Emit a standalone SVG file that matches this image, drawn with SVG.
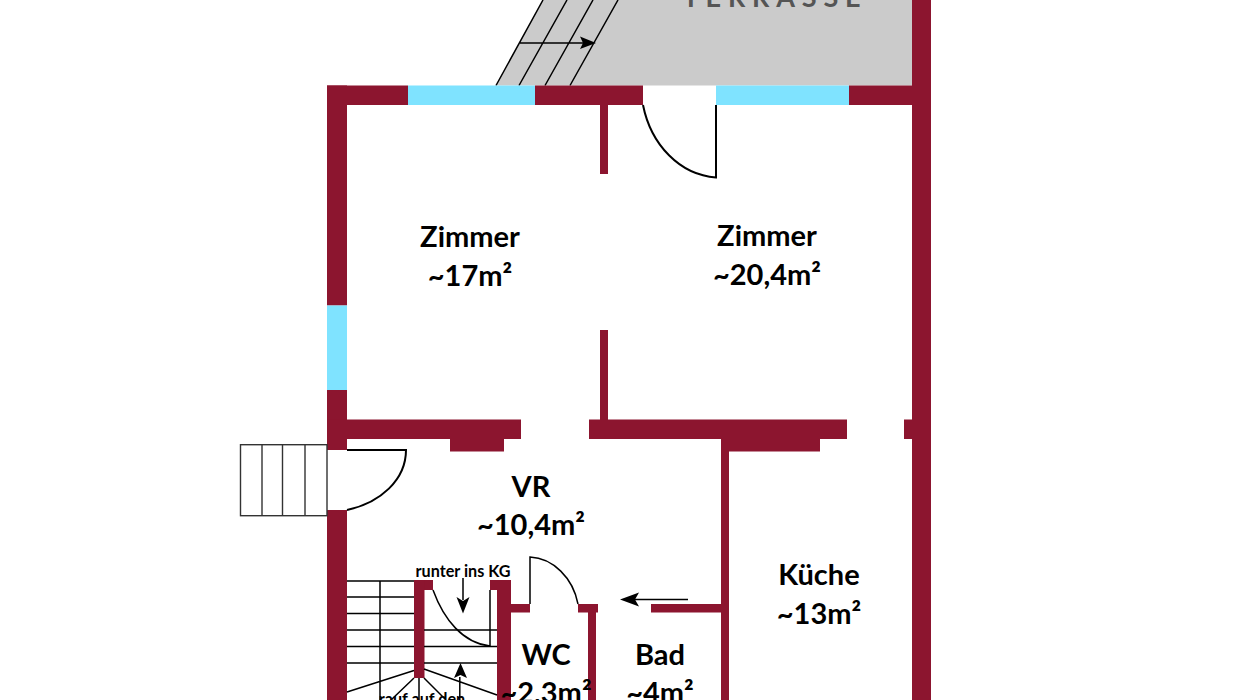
<svg xmlns="http://www.w3.org/2000/svg" width="1236" height="700" viewBox="0 0 1236 700">
<style>
.w{fill:#8c152f}
.g{fill:#7fe3ff}
.l{fill:none;stroke:#000;stroke-width:1.5}
.d{fill:none;stroke:#000;stroke-width:2}
.s{fill:none;stroke:#333;stroke-width:1.4}
.a{fill:#000}
text{font-family:"Lato","Open Sans","Liberation Sans",sans-serif;font-weight:700;fill:#000;text-anchor:middle}
.r{font-size:29px}
.m{font-size:16.200px}
</style>
<rect width="1236" height="700" fill="#fff"/>
<g id="terrace">
<polygon points="543,0 912,0 912,85.500 496,85.500" fill="#cbcbcb"/>
<text x="775" y="7" font-size="27" letter-spacing="6.800" style="fill:#555">TERRASSE</text>
<path class="l" d="M496,85.500 543,0M519,85.500 567,0M545,85.500 593,0M570,85.500 618,0M520,43H584"/>
<polygon class="a" points="596,43 580,36.500 583,43 580,49"/>
</g>
<g id="walls">
<rect class="w" x="327" y="85.500" width="81" height="19.500"/>
<rect class="w" x="535" y="85.500" width="108" height="19.500"/>
<rect class="w" x="849" y="85.500" width="63" height="19.500"/>
<rect class="w" x="912" y="0" width="19" height="700"/>
<rect class="w" x="327" y="85.500" width="20" height="220"/>
<rect class="w" x="327" y="390" width="20" height="60"/>
<rect class="w" x="327" y="510" width="20" height="190"/>
<rect class="w" x="600" y="105" width="8" height="69"/>
<rect class="w" x="600" y="330" width="8" height="90"/>
<rect class="w" x="327" y="419.500" width="194" height="19.500"/>
<rect class="w" x="450" y="439" width="54" height="12.500"/>
<rect class="w" x="589" y="419.500" width="258" height="19.500"/>
<rect class="w" x="721" y="439" width="99" height="12.500"/>
<rect class="w" x="904" y="419.500" width="8" height="19.500"/>
<rect class="w" x="721" y="439" width="8" height="261"/>
<rect class="w" x="651" y="604" width="70" height="8.500"/>
<rect class="w" x="511" y="604" width="19" height="8.500"/>
<rect class="w" x="578" y="604" width="20" height="8.500"/>
<rect class="w" x="588" y="604" width="8" height="96"/>
<rect class="w" x="414" y="580" width="19" height="10"/>
<rect class="w" x="414" y="580" width="10.500" height="98"/>
<rect class="w" x="490" y="580" width="21" height="10"/>
<rect class="w" x="497" y="580" width="14" height="120"/>
</g>
<g id="windows">
<rect class="g" x="408" y="85.500" width="127" height="19.500"/>
<rect class="g" x="716" y="85.500" width="133" height="19.500"/>
<rect class="g" x="327" y="305.500" width="20" height="84.500"/>
</g>
<g id="doors">
<path class="d" d="M643,105C651,145 680,175 716,177.500V105"/>
<path class="d" d="M347,450H406C406,480 380,503 347,510"/>
<path class="l" d="M530,604V557C553,558 573,578 578,604"/>
<path class="l" d="M433,590C444,620 463,643 490,646V590"/>
</g>
<g id="stairs">
<rect class="s" x="240.500" y="444.700" width="86.500" height="71"/>
<path class="s" d="M262,444.700V515.700M282.500,444.700V515.700M305,444.700V515.700"/>
<path class="l" d="M347,581H414M347,597H414M347,613.500H414M347,630H414M347,646.500H414M347,663H414M424,630H497M424,646.500H497M424,663H497M380,581V700M347,692 414,670.500M424,669 497,695M414,678 391,700M419,678V700M424,678 445,699M463,578V600M459.800,677V700"/>
<polygon class="a" points="463,613.500 456.500,597 463,601 469.500,597"/>
<polygon class="a" points="460.500,663 454,678 460.500,675 467,678"/>
<path class="l" d="M688,599.500H632"/>
<polygon class="a" points="620,599.500 639,592.500 635,599.500 639,606.500"/>
</g>
<g id="labels">
<text class="r" x="470" y="247">Zimmer</text>
<text class="r" x="470" y="286">~17m²</text>
<text class="r" x="767" y="246">Zimmer</text>
<text class="r" x="767" y="285">~20,4m²</text>
<text class="r" x="531" y="497">VR</text>
<text class="r" x="531" y="535">~10,4m²</text>
<text class="r" x="819" y="585">Küche</text>
<text class="r" x="819" y="624">~13m²</text>
<text class="r" x="660" y="665">Bad</text>
<text class="r" x="660" y="703">~4m²</text>
<text class="r" x="546" y="665">WC</text>
<text class="r" x="546" y="703">~2,3m²</text>
<text class="m" x="463" y="577">runter ins KG</text>
<text class="m" x="422" y="705">rauf auf den</text>
</g>
</svg>
